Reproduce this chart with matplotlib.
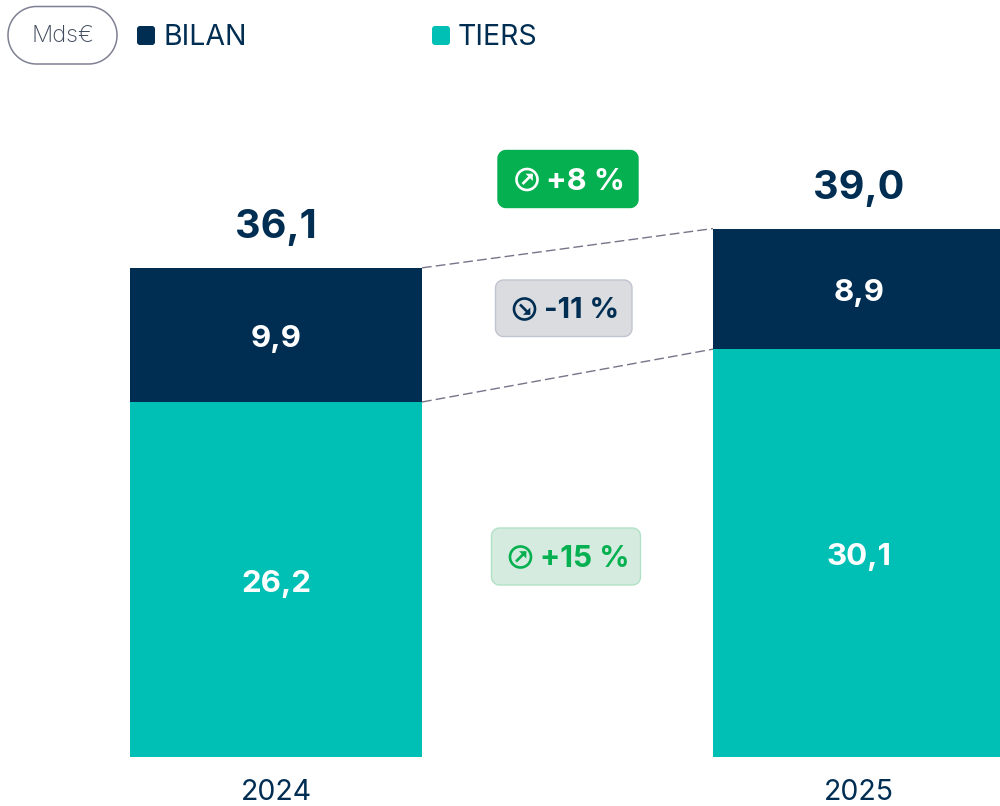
import numpy as np
import matplotlib
matplotlib.use("Agg")
import matplotlib.pyplot as plt
from matplotlib.patches import Polygon, Circle

years = ["2024", "2025"]
bilan = [9.9, 8.9]
tiers = [26.2, 30.1]
totals = [36.1, 39.0]
bilan_labels = ["9,9", "8,9"]
tiers_labels = ["26,2", "30,1"]
total_labels = ["36,1", "39,0"]
series_names = ["BILAN", "TIERS"]
unit = "Mds€"
changes = ["+8 %", "-11 %", "+15 %"]

NAVY = "#002D52"
TEAL = "#00C0B5"
GREEN = "#05B050"
plt.rcParams["font.family"] = ["Inter", "DejaVu Sans"]

W, H = 1000, 806
fig = plt.figure(figsize=(W / 100, H / 100), dpi=100, facecolor="white")
ax = fig.add_axes([0, 0, 1, 1])
PX_X, PX_Y, X0, Y0 = 583.0, 13.55, 276.0, 757.0
ax.set_xlim(-X0 / PX_X, (W - X0) / PX_X)
ax.set_ylim(-(H - Y0) / PX_Y, Y0 / PX_Y)
ax.axis("off")

pos = list(range(len(years)))
bw = 292 / PX_X
ax.bar(pos, tiers, width=bw, color=TEAL, linewidth=0)
ax.bar(pos, bilan, width=bw, bottom=tiers, color=NAVY, linewidth=0)

for i in pos:
    ax.text(i, tiers[i] / 2 - 0.3, tiers_labels[i], color="white", fontsize=22.5, fontweight="bold", ha="center", va="center")
    ax.text(i, tiers[i] + bilan[i] / 2 - 0.3, bilan_labels[i], color="white", fontsize=22.5, fontweight="bold", ha="center", va="center")
    ax.text(i, totals[i] + 2.95, total_labels[i], color=NAVY, fontsize=28.5, fontweight="bold", ha="center", va="center")
    ax.text(i, -2.62, years[i], color=NAVY, fontsize=20.5, ha="center", va="center")

for a, b in [(totals[0], totals[1]), (tiers[0], tiers[1])]:
    ax.plot([bw / 2, 1 - bw / 2], [a, b], color="#75758A", lw=1, dashes=(7, 3))

ov = fig.add_axes([0, 0, 1, 1], facecolor="none")
ov.set_xlim(0, W)
ov.set_ylim(H, 0)
ov.axis("off")

def rbox(x0, y0, x1, y1, r, fc, ec, lw=1.0):
    t = np.linspace(0, np.pi / 2, 24)
    c, s = np.cos(t), np.sin(t)
    xs = np.r_[x1 - r + r * c, x0 + r - r * s, x0 + r - r * c, x1 - r + r * s]
    ys = np.r_[y1 - r + r * s, y1 - r + r * c, y0 + r - r * s, y0 + r - r * c]
    ov.add_patch(Polygon(np.c_[xs, ys], closed=True, fc=fc, ec=ec, lw=lw))

rbox(8, 6.5, 117, 64, 28.5, "white", "#7F8094", 1.1)
ov.text(62.5, 36.5, unit, color="#3F4A5C", fontsize=17, ha="center", va="center", fontweight="light")

rbox(137, 26, 155, 45, 3, NAVY, NAVY, 0)
ov.text(163, 37.5, series_names[0], color=NAVY, fontsize=20.5, ha="left", va="center")
rbox(432, 26, 450, 45, 3, TEAL, TEAL, 0)
ov.text(458, 37.5, series_names[1], color=NAVY, fontsize=20.5, ha="left", va="center")

def badge(box, fc, ec, fg, text, icon_x, text_x, cy, up=True, fs=22):
    rbox(*box, 8, fc, ec, 1.0)
    ov.add_patch(Circle((icon_x, cy), 10.5, fc="none", ec=fg, lw=1.9))
    sgn = -1 if up else 1
    tipx, tipy = icon_x + 5, cy + sgn * 5
    ov.plot([icon_x - 4.5, tipx], [cy - sgn * 4.5, tipy], color=fg, lw=1.9, solid_capstyle="butt")
    ov.add_patch(Polygon([(tipx + 0.8, tipy + sgn * 0.8), (tipx - 6.5, tipy + sgn * 0.8), (tipx + 0.8, tipy - sgn * 6.5)],
                         closed=True, fc=fg, ec="none"))
    ov.text(text_x, cy + 2, text, color=fg, fontsize=fs, fontweight="bold", ha="left", va="center")

badge((498, 150.5, 638, 207.5), GREEN, GREEN, "white", changes[0], 527, 546, 179.5)
badge((495.5, 280, 632, 336.5), "#DADCDF", "#BFC5D0", NAVY, changes[1], 524.5, 544, 309, up=False, fs=21)
badge((491.5, 528, 640.5, 585), "#D5EBDF", "#B2E2C6", GREEN, changes[2], 520.5, 540, 557, fs=21.5)

fig.savefig("out.png", dpi=100, facecolor="white")
